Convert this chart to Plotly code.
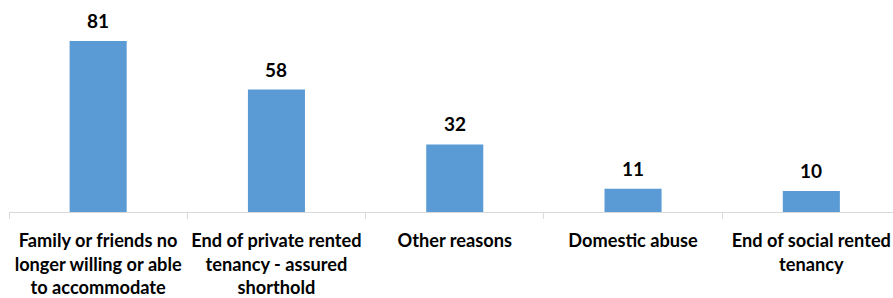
import plotly.graph_objects as go

categories = [
    "Family or friends no<br>longer willing or able<br>to accommodate",
    "End of private rented<br>tenancy - assured<br>shorthold",
    "Other reasons",
    "Domestic abuse",
    "End of social rented<br>tenancy",
]
values = [81, 58, 32, 11, 10]

FONT = "Lato, Carlito, Calibri, sans-serif"
labels = [f"<b>{c}</b>" for c in categories]

fig = go.Figure()
fig.add_trace(go.Bar(
    x=labels,
    y=values,
    marker=dict(color="#5B9BD5", line=dict(width=0)),
    width=0.32,
    hoverinfo="skip",
))

for lab, v in zip(labels, values):
    fig.add_annotation(
        x=lab, y=v, text=f"<b>{v}</b>", showarrow=False,
        yanchor="bottom", yshift=7,
        font=dict(family=FONT, size=19, color="#000000"),
    )

fig.update_layout(
    width=893, height=298,
    margin=dict(l=9, r=0, t=0, b=86),
    paper_bgcolor="white", plot_bgcolor="white",
    showlegend=False,
    font=dict(family=FONT, size=18.5, color="#000000"),
    xaxis=dict(
        type="category",
        range=[-0.5, 4.458],
        showline=True, linecolor="#D9D9D9", linewidth=1,
        showgrid=False, zeroline=False,
        ticks="outside", tickson="boundaries", ticklen=6,
        tickcolor="#D9D9D9", tickwidth=1, tickangle=0,
        ticklabelstandoff=12,
        tickfont=dict(family=FONT, size=18.2, color="#000000"),
        automargin=False,
    ),
    yaxis=dict(
        range=[0, 100.4], visible=False, showgrid=False, zeroline=False,
    ),
)

fig.write_html(
    "out.html",
    config={"displayModeBar": False},
    post_script="document.body.style.margin='0';document.body.style.overflow='hidden';",
)
